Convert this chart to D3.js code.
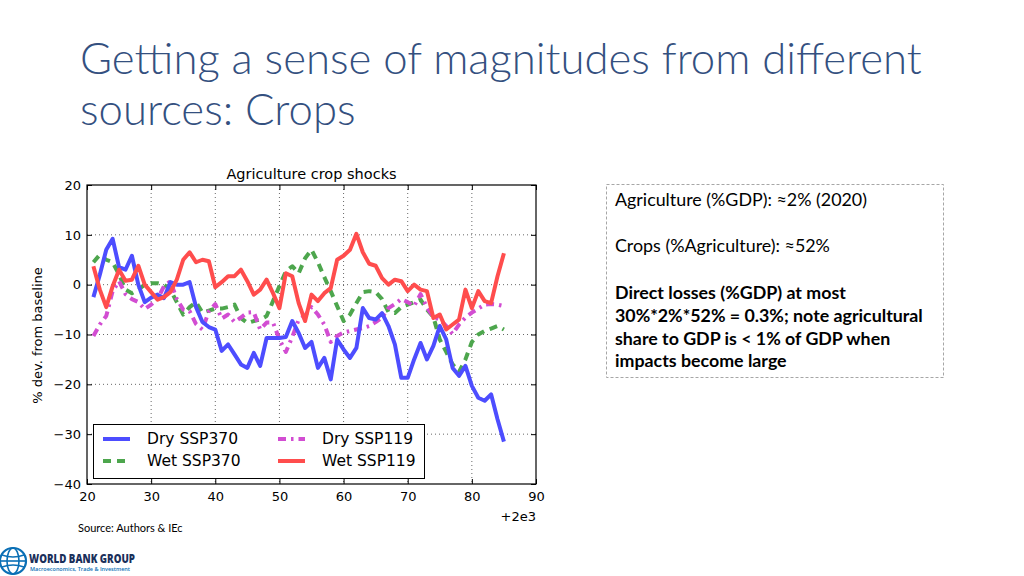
<!DOCTYPE html>
<html><head><meta charset="utf-8">
<script src="https://cdn.jsdelivr.net/npm/d3@7"></script>
<style>
html,body{margin:0;padding:0;background:#fff;}
svg{display:block;}
</style></head>
<body>
<svg id="c" width="1024" height="576"></svg>
<script>
// ---------- DATA ----------
const years = d3.range(21, 86);
const drySSP370 = [-2.5,2,7,9.2,3.5,3,5.8,0,-3.5,-2.6,-2,-2.7,0.5,0,0,0.5,-4.5,-7.5,-8.5,-9,-13.3,-12,-14,-16,-16.7,-13.7,-16.3,-10.7,-10.7,-10.7,-10.5,-7.3,-9.7,-12.7,-11.5,-16.7,-14.7,-19,-11,-13,-14.7,-12.7,-4.7,-6.7,-7,-5.7,-8.3,-12,-18.7,-18.7,-15,-11.7,-15,-12.3,-8.3,-11,-16.7,-18.3,-16.3,-20.3,-22.7,-23.3,-22,-27,-31.5];
const wetSSP370 = [4.5,6,5,4.5,2,-1,-1.7,-1,0,0.3,0.3,0,-1,-3.5,-6,-4.5,-3.5,-5.6,-5.2,-4.8,-4.8,-4.5,-4,-6.7,-7.7,-7.3,-7,-6.3,-3.3,-0.3,2.7,3.7,2.3,5.3,7,4.5,1.5,-1.3,-4.3,-7.3,-6,-3.7,-1.5,-1.3,-1.5,-2.9,-5.5,-5.7,-4.5,-4,-3.5,-3,-5,-6.5,-11,-13.5,-16,-17.5,-15,-11.5,-10,-9.3,-8.8,-8.3,-9];
const drySSP119 = [-10.3,-8,-6.3,-1.3,0.7,-1.9,-2.9,-3.5,-4.9,-4,-2.9,-0.3,0.7,-2.9,-5,-5.3,-7.9,-9,-5.3,-3.9,-6.8,-6,-7.5,-6.6,-5.6,-5.5,-9,-7.6,-7.6,-11,-13.5,-10.5,-7,-6.2,-4.5,-6,-8,-11.5,-10.3,-9.6,-9.3,-9,-8.7,-8.3,-7.5,-6.6,-4.7,-3.9,-2.9,-3.5,-4.3,-1.9,-4.6,-6.5,-7,-8.3,-9.9,-8,-6.6,-5.6,-4.8,-4,-3.9,-4,-4.3];
const wetSSP119 = [3.7,-1,-4.5,-0.3,3,0.8,1,3.8,0,-1.5,-3,-2.5,-1.5,1,5,6.5,4.5,5,4.7,-0.5,0.5,1.7,1.7,3,0.7,-2,-1,1,-1.7,-4.7,2.3,1.7,-3.7,-7.3,-2,-3.3,-1.7,-0.7,5,5.8,7,10.2,6.5,4.2,3.8,1.3,0,1,0.7,-1.3,0,-1,-1.3,-6.7,-6,-9,-8,-7,-1,-4.7,-1.3,-3.3,-3.7,1.7,6.3];
const seriesNames = ["Dry SSP370","Wet SSP370","Dry SSP119","Wet SSP119"];
const xTicks = [20,30,40,50,60,70,80,90];
const yTicks = [-40,-30,-20,-10,0,10,20];
const titleLines = ["Getting a sense of magnitudes from different","sources: Crops"];
const boxLines = [
  {t:"Agriculture (%GDP): \u22482% (2020)", b:false},
  {t:"Crops (%Agriculture): \u224852%", b:false},
  {t:"Direct losses (%GDP) at most", b:true},
  {t:"30%*2%*52% = 0.3%; note agricultural", b:true},
  {t:"share to GDP is < 1% of GDP when", b:true},
  {t:"impacts become large", b:true}
];

// ---------- SETUP ----------
const svg = d3.select("#c");
const m = {l:87, r:536, t:185, b:484};
const x = d3.scaleLinear().domain([20,90]).range([m.l,m.r]);
const y = d3.scaleLinear().domain([-40,20]).range([m.b,m.t]);
const mpl = "'DejaVu Sans', sans-serif";
const cal = "Lato, 'Open Sans', sans-serif";

function fit(sel, target){
  const node = sel.node();
  let fs = parseFloat(sel.attr("font-size"));
  const w = node.getComputedTextLength();
  if (w>0) sel.attr("font-size", (fs*target/w).toFixed(2));
}

// Title
const titleColor = "#34507f";
const t1 = svg.append("text").attr("x",80).attr("y",74).attr("font-family","Lato, sans-serif")
  .attr("font-weight",300).attr("font-size",40).attr("fill",titleColor).text(titleLines[0]);
fit(t1, 842);
const fsT = t1.attr("font-size");
svg.append("text").attr("x",80).attr("y",125).attr("font-family","Lato, sans-serif")
  .attr("font-weight",300).attr("font-size",fsT).attr("fill",titleColor).text(titleLines[1]);

// Chart title
svg.append("text").attr("x",(m.l+m.r)/2).attr("y",179).attr("text-anchor","middle")
  .attr("font-family",mpl).attr("font-size",14.5).attr("fill","#000").text("Agriculture crop shocks");

// grid
const g = svg.append("g");
g.selectAll(".gx").data(xTicks.slice(1,-1)).join("line")
  .attr("x1",d=>x(d)).attr("x2",d=>x(d)).attr("y1",m.t).attr("y2",m.b)
  .attr("stroke","#000").attr("stroke-width",0.6).attr("stroke-dasharray","1,3");
g.selectAll(".gy").data(yTicks.slice(1,-1)).join("line")
  .attr("x1",m.l).attr("x2",m.r).attr("y1",d=>y(d)).attr("y2",d=>y(d))
  .attr("stroke","#000").attr("stroke-width",0.6).attr("stroke-dasharray","1,3");

// axes (ticks inward)
const xa = svg.append("g").attr("transform",`translate(0,${m.b})`)
  .call(d3.axisBottom(x).tickValues(xTicks).tickSize(-5).tickPadding(8).tickFormat(d3.format("d")));
const xt = svg.append("g").attr("transform",`translate(0,${m.t})`)
  .call(d3.axisTop(x).tickValues(xTicks).tickSize(-5).tickFormat(""));
const ya = svg.append("g").attr("transform",`translate(${m.l},0)`)
  .call(d3.axisLeft(y).tickValues(yTicks).tickSize(-5).tickPadding(6).tickFormat(d=>String(d).replace("-","\u2212")));
const yr = svg.append("g").attr("transform",`translate(${m.r},0)`)
  .call(d3.axisRight(y).tickValues(yTicks).tickSize(-5).tickFormat(""));
[xa,xt,ya,yr].forEach(a=>{
  a.select(".domain").remove();
  a.selectAll("line").attr("stroke","#000");
  a.selectAll("text").attr("font-family",mpl).attr("font-size",13).attr("fill","#000");
});
xa.selectAll("text").attr("dy","0.71em");

// lines
const lineGen = d3.line().x((d,i)=>x(years[i])).y(d=>y(d));
svg.append("clipPath").attr("id","pc").append("rect")
  .attr("x",m.l).attr("y",m.t).attr("width",m.r-m.l).attr("height",m.b-m.t);
const styles = [
  {data:drySSP370, color:"#4d4dff", dash:null},
  {data:wetSSP370, color:"#4da64d", dash:"8,6"},
  {data:drySSP119, color:"#d24dd2", dash:"8,5,2.5,5"},
  {data:wetSSP119, color:"#ff4d4d", dash:null}
];
const order = [1,2,0,3];
const pl = svg.append("g").attr("clip-path","url(#pc)");
order.forEach(k=>{
  const s = styles[k];
  pl.append("path").attr("d",lineGen(s.data)).attr("fill","none")
    .attr("stroke",s.color).attr("stroke-width",4).attr("stroke-linejoin","round")
    .attr("stroke-dasharray",s.dash);
});

// frame
svg.append("rect").attr("x",m.l).attr("y",m.t).attr("width",m.r-m.l).attr("height",m.b-m.t)
  .attr("fill","none").attr("stroke","#000").attr("stroke-width",1.2);

// offset text
svg.append("text").attr("x",m.r).attr("y",521).attr("text-anchor","end")
  .attr("font-family",mpl).attr("font-size",13).text("+2e3");

// y label
svg.append("text").attr("transform",`translate(42,${(m.t+m.b)/2+1}) rotate(-90)`)
  .attr("text-anchor","middle").attr("font-family",mpl).attr("font-size",13).text("% dev. from baseline");

// legend
const lg = svg.append("g");
lg.append("rect").attr("x",93.5).attr("y",424.5).attr("width",331).attr("height",54)
  .attr("fill","#fff").attr("stroke","#000").attr("stroke-width",1);
const legPos = [
  {k:0, x:103, y:439},{k:1, x:103, y:461},{k:2, x:278, y:439},{k:3, x:278, y:461}
];
legPos.forEach(p=>{
  const s = styles[p.k];
  lg.append("line").attr("x1",p.x).attr("x2",p.x+27).attr("y1",p.y).attr("y2",p.y)
    .attr("stroke",s.color).attr("stroke-width",4).attr("stroke-dasharray",s.dash);
  lg.append("text").attr("x",p.x+44).attr("y",p.y).attr("dy","0.35em")
    .attr("font-family",mpl).attr("font-size",15.5).text(seriesNames[p.k]);
});

// right box
svg.append("rect").attr("x",606.5).attr("y",184.5).attr("width",337).attr("height",193)
  .attr("fill","none").attr("stroke","#a6a6a6").attr("stroke-width",1).attr("stroke-dasharray","3,2");
const boxY = [200,246,293,316,339,361];
const boxW = [252,216,229,308,286,174];
const boxTexts = [];
boxLines.forEach((l,i)=>{
  const t = svg.append("text").attr("x",615).attr("y",boxY[i]).attr("dy","0.35em")
    .attr("font-family",cal).attr("font-size",15).attr("font-weight",l.b?700:400)
    .attr("fill","#000").text(l.t);
  boxTexts.push(t);
});
fit(boxTexts[0], boxW[0]);
fit(boxTexts[3], boxW[3]);
const fsN = boxTexts[0].attr("font-size"), fsB = boxTexts[3].attr("font-size");
boxTexts.forEach((t,i)=>t.attr("font-size", i<2?fsN:fsB));

// source
svg.append("text").attr("x",78).attr("y",528).attr("dy","0.35em").attr("font-family",cal)
  .attr("font-size",11).attr("fill","#000").text("Source: Authors & IEc");

// logo
const lo = svg.append("g").attr("transform","translate(13,561)");
lo.append("circle").attr("r",13).attr("fill","none").attr("stroke","#0a6fb5").attr("stroke-width",2.2);
lo.append("ellipse").attr("rx",6).attr("ry",13).attr("fill","none").attr("stroke","#0a6fb5").attr("stroke-width",1.6);
lo.append("line").attr("x1",-13).attr("x2",13).attr("stroke","#0a6fb5").attr("stroke-width",1.6);
lo.append("path").attr("d","M-11,-6 Q0,-2 11,-6 M-11,6 Q0,2 11,6").attr("fill","none").attr("stroke","#0a6fb5").attr("stroke-width",1.4);
svg.append("text").attr("x",29).attr("y",563).attr("font-family","'Open Sans', sans-serif").attr("font-weight",800)
  .attr("font-size",12).attr("fill","#1a2f5a").attr("textLength",106).attr("lengthAdjust","spacingAndGlyphs").text("WORLD BANK GROUP");
svg.append("text").attr("x",30).attr("y",571).attr("font-family","'Open Sans', sans-serif").attr("font-weight",600)
  .attr("font-size",5.5).attr("fill","#0a6fb5").attr("textLength",100).attr("lengthAdjust","spacingAndGlyphs").text("Macroeconomics, Trade & Investment");
</script>
</body></html>
